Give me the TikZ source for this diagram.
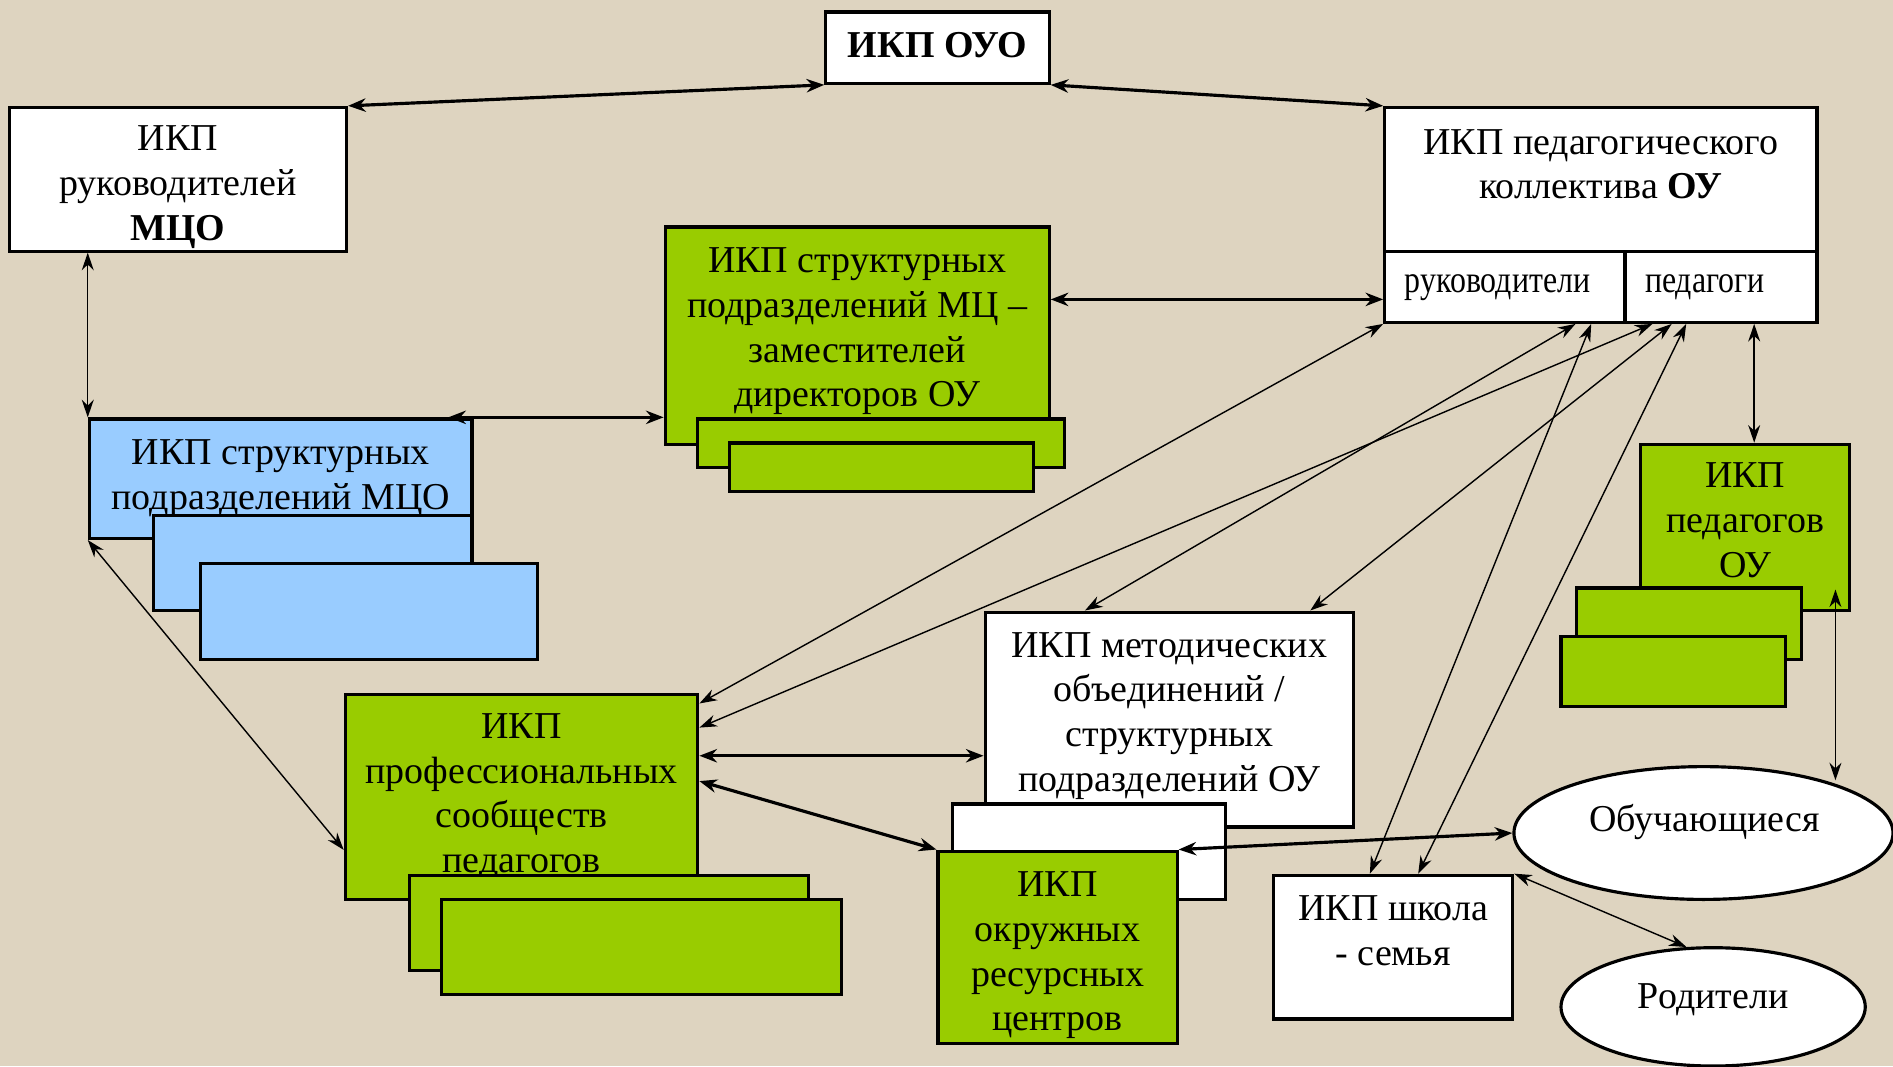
\documentclass[tikz,border=0pt]{standalone}
\usepackage{fontspec}
\setmainfont{Liberation Serif}
\newfontfamily\narrowserif[FakeStretch=0.84]{Liberation Serif}
\usetikzlibrary{arrows.meta, positioning, shapes.geometric, calc}
\newcommand{\pu}{0.012073cm}
\definecolor{paper}{RGB}{222,212,192}
\definecolor{leaf}{RGB}{153,204,0}
\definecolor{sky}{RGB}{153,204,255}
\tikzset{
  box/.style = {
    draw, line width=0.9pt, fill=white, align=center, inner sep=0pt,
    font=\fontsize{10.8}{12.7}\selectfont
  },
  greenbox/.style = {box, fill=leaf},
  bluebox/.style = {box, fill=sky},
  oval/.style = {ellipse, draw, line width=0.9pt, fill=white, inner sep=0pt},
  txt/.style = {align=center, inner sep=0pt, font=\fontsize{10.8}{12.7}\selectfont},
  celltxt/.style = {inner sep=0pt, anchor=west, font=\narrowserif\fontsize{10.8}{12.7}\selectfont},
  link/.style = {{Stealth[length=5pt,width=3.4pt]}-{Stealth[length=5pt,width=3.4pt]}, line width=0.4pt},
  boldlink/.style = {{Stealth[length=5pt,width=3.8pt]}-{Stealth[length=5pt,width=3.8pt]}, line width=0.9pt},
}

\begin{document}
\begin{tikzpicture}[x=\pu, y=-\pu]
    \useasboundingbox (0,0) rectangle (1568,883);
    \fill[paper] (0,0) rectangle (1568,883);

    % top row
    \node[box, minimum width=185*\pu, minimum height=59*\pu] (oyo) at (776.5,39.5) {};
    \node[txt] (oyotxt) at (776.5,37.5) {\textbf{ИКП ОУО}};
    \node[box, minimum width=279*\pu, minimum height=119*\pu] (mco) at (147.5,148.5) {};
    \node[txt] (mcotxt) at (147.5,155) {ИКП\\руководителей\\\textbf{МЦО}};
    \node[box, minimum width=358*\pu, minimum height=119*\pu] (koll) at (1326,148.5) {};
    \node[txt] (kolltxt) at (1326,136) {ИКП педагогического\\коллектива \textbf{ОУ}};
    \node[box, minimum width=199*\pu, minimum height=59*\pu] (ruk) at (1246.5,237.5) {};
    \node[celltxt] (ruktxt) at (1163,238) {руководители};
    \node[box, minimum width=159*\pu, minimum height=59*\pu] (ped) at (1425.5,237.5) {};
    \node[celltxt] (pedtxt) at (1362,238) {педагоги};

    % stacked groups
    \node[greenbox, minimum width=318*\pu, minimum height=180*\pu] (zam) at (710,278) {};
    \node[txt] (zamtxt) at (710,274.5) {ИКП структурных\\подразделений МЦ –\\заместителей\\директоров ОУ};
    \node[greenbox, minimum width=304*\pu, minimum height=40*\pu] (zam2) at (730,367) {};
    \node[greenbox, minimum width=252*\pu, minimum height=40*\pu] (zam3) at (730,387) {};

    \node[bluebox, minimum width=317*\pu, minimum height=99*\pu] (blue) at (232.5,396.5) {ИКП структурных\\подразделений МЦО};
    \node[bluebox, minimum width=264*\pu, minimum height=79*\pu] (blue2) at (259,466.5) {};
    \node[bluebox, minimum width=279*\pu, minimum height=79*\pu] (blue3) at (305.5,506.5) {};

    \node[greenbox, minimum width=173*\pu, minimum height=138*\pu] (pou) at (1445.5,437) {};
    \node[txt] (poutxt) at (1445.5,431) {ИКП\\педагогов\\ОУ};
    \node[greenbox, minimum width=186*\pu, minimum height=59*\pu] (pou2) at (1399,516.5) {};
    \node[greenbox, minimum width=186*\pu, minimum height=58*\pu] (pou3) at (1386,556) {};

    \node[box, minimum width=305*\pu, minimum height=178*\pu] (mo) at (968.5,596) {};
    \node[txt] (motxt) at (968.5,593) {ИКП методических\\объединений /\\структурных\\подразделений ОУ};
    \node[box, minimum width=226*\pu, minimum height=79*\pu] (mo2) at (902,705.5) {};
    \node[greenbox, minimum width=198*\pu, minimum height=159*\pu] (okr) at (876,784.5) {};
    \node[txt] (okrtxt) at (876,791.5) {ИКП\\окружных\\ресурсных\\центров};

    \node[greenbox, minimum width=292*\pu, minimum height=170*\pu] (prof) at (432,660) {ИКП\\профессиональных\\сообществ\\педагогов};
    \node[greenbox, minimum width=331*\pu, minimum height=79*\pu] (prof2) at (504.5,764.5) {};
    \node[greenbox, minimum width=331*\pu, minimum height=79*\pu] (prof3) at (531.5,784.5) {};

    % school, pupils, parents
    \node[box, minimum width=198*\pu, minimum height=119*\pu] (shk) at (1154,784.5) {};
    \node[txt] (shktxt) at (1154,771) {ИКП школа\\- семья};
    \node[oval, minimum width=314*\pu, minimum height=110*\pu] (obu) at (1411,690) {};
    \node[txt] (obutxt) at (1412,681) {Обучающиеся};
    \node[oval, minimum width=252*\pu, minimum height=98*\pu] (rod) at (1419,834) {};
    \node[txt] (rodtxt) at (1419,828) {Родители};

    % connectors
    \draw[boldlink] (oyo.south west) -- (mco.north east);
    \draw[boldlink] (oyo.south east) -- (koll.north west);
    \draw[link] (blue.north west |- mco.south) -- (blue.north west);
    \draw[boldlink] ($(blue.north east)+(-21,0)$) -- (zam.west |- blue.north);
    \draw[boldlink] ($(zam.east)+(0,-30)$) -- ($(ruk.west)+(0,10.5)$);
    \draw[link] (ruk.south west) -- ($(prof.north east)+(0,9)$);
    \draw[link] ($(ruk.south)+(58.5,0)$) -- ($(mo.north west)+(84,0)$);
    \draw[link] ($(ruk.south)+(71.5,0)$) -- ($(shk.north west)+(81,0)$);
    \draw[link] ($(ped.south west)+(24,0)$) -- ($(prof.north east)+(0,29)$);
    \draw[link] ($(ped.south west)+(40,0)$) -- ($(mo.north east)+(-37,0)$);
    \draw[link] ($(ped.south west)+(52,0)$) -- ($(shk.north west)+(121,0)$);
    \draw[link] ($(ped.south)+(27.5,0)$) -- ($(pou.north)+(7.5,0)$);
    \draw[link] ($(pou.south east)+(-13,-19)$) -- ($(pou.south east)+(-13,139)$);
    \draw[boldlink] ($(prof.east)+(0,-34)$) -- ($(mo.west)+(0,30)$);
    \draw[boldlink] ($(prof.east)+(0,-13)$) -- (okr.north west);
    \draw[boldlink] (okr.north east) -- (obu.west);
    \draw[link] (shk.north east) -- (rod.114);
    \draw[link] (blue.south west) -- ($(prof.west)+(0,44)$);

  \end{tikzpicture}
\end{document}
